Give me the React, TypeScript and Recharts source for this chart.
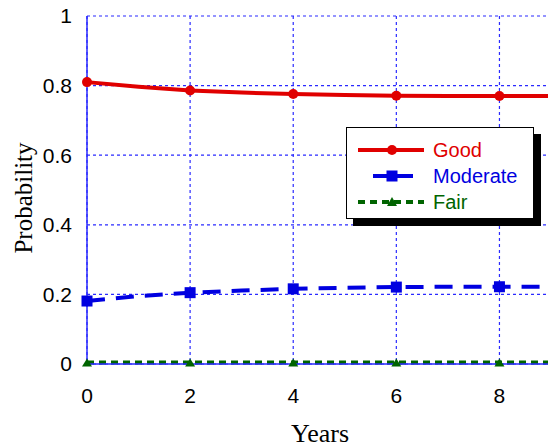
import React from 'react';
import { ComposedChart, Line, XAxis, YAxis, CartesianGrid, Label } from 'recharts';

const years = [0, 1, 2, 3, 4, 5, 6, 7, 8, 9];
const good = [0.81, 0.797, 0.786, 0.78, 0.776, 0.773, 0.771, 0.77, 0.77, 0.77];
const moderate = [0.181, 0.195, 0.205, 0.211, 0.216, 0.219, 0.221, 0.222, 0.222, 0.222];
const fair = [0.004, 0.004, 0.004, 0.004, 0.004, 0.004, 0.004, 0.004, 0.004, 0.004];
const xTicks = [0, 2, 4, 6, 8];
const yTicks = [0, 0.2, 0.4, 0.6, 0.8, 1];
const seriesNames = ['Good', 'Moderate', 'Fair'];

const RED = '#e00000';
const BLUE = '#0000e0';
const GREEN = '#006400';
const GRID = '#2a2aff';

const data = years.map((y, i) => ({ year: y, good: good[i], moderate: moderate[i], fair: fair[i] }));

const isMarked = (p: any) => p && p.payload && p.payload.year % 2 === 0;

const GoodDot = (p: any) =>
  isMarked(p) ? <circle key={p.index} cx={p.cx} cy={p.cy} r={5} fill={RED} /> : <g key={p.index} />;
const ModDot = (p: any) =>
  isMarked(p) ? <rect key={p.index} x={p.cx - 5.5} y={p.cy - 5.5} width={11} height={11} fill={BLUE} /> : <g key={p.index} />;
const FairDot = (p: any) =>
  isMarked(p) ? (
    <polygon key={p.index} points={`${p.cx - 5},${p.cy + 4} ${p.cx + 5},${p.cy + 4} ${p.cx},${p.cy - 4}`} fill={GREEN} />
  ) : (
    <g key={p.index} />
  );

const LegendBox = () => {
  const rows = [
    { name: seriesNames[0], color: RED, dash: undefined, marker: 'circle', x1: 11, x2: 77 },
    { name: seriesNames[1], color: BLUE, dash: '16 8', marker: 'square', x1: 26, x2: 74 },
    { name: seriesNames[2], color: GREEN, dash: '7 5', marker: 'triangle', x1: 11, x2: 77 },
  ];
  return (
    <div
      style={{
        position: 'absolute',
        left: 346,
        top: 127,
        width: 186,
        height: 90,
        border: '1.5px solid #000',
        background: '#fff',
        boxShadow: '7px 7px 0 #000',
        fontFamily: '"Liberation Sans", Arial, sans-serif',
      }}
    >
      {rows.map((r, i) => (
        <div key={r.name} style={{ position: 'absolute', left: 0, top: 9 + i * 26, height: 26, width: 186 }}>
          <svg width={84} height={26} style={{ position: 'absolute', left: 0, top: 0 }}>
            <line x1={r.x1} x2={r.x2} y1={13} y2={13} stroke={r.color} strokeWidth={4} strokeDasharray={r.dash} />
            {r.marker === 'circle' && <circle cx={45} cy={13} r={5} fill={r.color} />}
            {r.marker === 'square' && <rect x={39.5} y={7.5} width={11} height={11} fill={r.color} />}
            {r.marker === 'triangle' && <polygon points="40,17 50,17 45,8" fill={r.color} />}
          </svg>
          <span
            style={{
              position: 'absolute',
              left: 86,
              top: 0,
              lineHeight: '26px',
              fontSize: 20,
              color: r.color,
              whiteSpace: 'nowrap',
            }}
          >
            {r.name}
          </span>
        </div>
      ))}
    </div>
  );
};

export default function App() {
  return (
    <div style={{ position: 'absolute', left: 0, top: 0, width: 548, height: 447, overflow: 'hidden', background: '#fff' }}>
      <ComposedChart width={560} height={447} data={data} margin={{ top: 16, right: 9, bottom: 0, left: 0 }}>
        <CartesianGrid stroke={GRID} strokeWidth={1.2} strokeDasharray="3 3" />
        <XAxis
          dataKey="year"
          type="number"
          domain={[0, 9]}
          ticks={xTicks}
          height={83}
          axisLine={{ stroke: GRID, strokeWidth: 1.5 }}
          tickLine={false}
          tickSize={10}
          tickMargin={14}
          tick={{ fill: '#000', fontSize: 21, fontFamily: '"Liberation Sans", Arial, sans-serif' }}
        >
          <Label
            content={() => (
              <text
                x={320}
                y={442}
                textAnchor="middle"
                fontSize={26}
                fontFamily='"Liberation Serif", "Times New Roman", serif'
                fill="#000"
              >
                Years
              </text>
            )}
          />
        </XAxis>
        <XAxis
          xAxisId="top"
          orientation="top"
          dataKey="year"
          type="number"
          domain={[0, 9]}
          ticks={xTicks}
          height={0}
          mirror
          tick={false}
          tickSize={8}
          axisLine={{ stroke: GRID, strokeWidth: 1.5 }}
          tickLine={{ stroke: GRID, strokeWidth: 1.5 }}
        />
        <XAxis
          xAxisId="bot2"
          orientation="bottom"
          dataKey="year"
          type="number"
          domain={[0, 9]}
          ticks={xTicks}
          height={0}
          mirror
          tick={false}
          tickSize={8}
          axisLine={false}
          tickLine={{ stroke: GRID, strokeWidth: 1.5 }}
        />
        <YAxis
          type="number"
          domain={[0, 1]}
          ticks={yTicks}
          width={87}
          axisLine={{ stroke: GRID, strokeWidth: 1.5 }}
          tickLine={false}
          tickSize={8}
          tickMargin={7}
          tickFormatter={(v: number) => String(v)}
          tick={{ fill: '#000', fontSize: 21, fontFamily: '"Liberation Sans", Arial, sans-serif' }}
        >
          <Label
            content={() => (
              <text
                x={23}
                y={198}
                transform="rotate(-90 23 198)"
                textAnchor="middle"
                dominantBaseline="central"
                fontSize={25}
                fontFamily='"Liberation Serif", "Times New Roman", serif'
                fill="#000"
              >
                Probability
              </text>
            )}
          />
        </YAxis>
        <YAxis
          yAxisId="left2"
          type="number"
          domain={[0, 1]}
          ticks={yTicks}
          width={0}
          mirror
          tick={false}
          tickSize={8}
          axisLine={false}
          tickLine={{ stroke: GRID, strokeWidth: 1.5 }}
        />
        <Line
          dataKey="fair"
          name={seriesNames[2]}
          stroke={GREEN}
          strokeWidth={4}
          strokeDasharray="7 5"
          dot={FairDot}
          activeDot={false}
          isAnimationActive={false}
        />
        <Line
          dataKey="moderate"
          name={seriesNames[1]}
          stroke={BLUE}
          strokeWidth={4}
          strokeDasharray="18 11"
          dot={ModDot}
          activeDot={false}
          isAnimationActive={false}
        />
        <Line
          dataKey="good"
          name={seriesNames[0]}
          stroke={RED}
          strokeWidth={4}
          dot={GoodDot}
          activeDot={false}
          isAnimationActive={false}
        />
      </ComposedChart>
      <LegendBox />
    </div>
  );
}
